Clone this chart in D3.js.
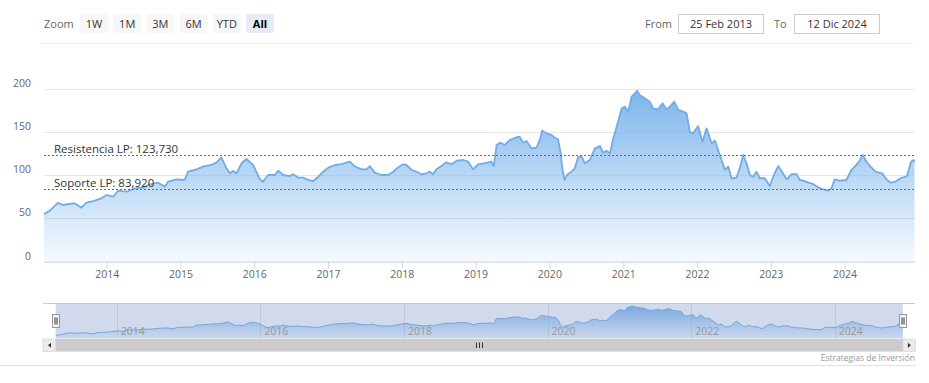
<!DOCTYPE html>
<html><head><meta charset="utf-8">
<script src="https://cdn.jsdelivr.net/npm/d3@7"></script>
<style>
body{margin:0;background:#fff;}
svg{display:block;font-family:"Open Sans",sans-serif;}
</style>
</head><body>
<svg id="c" width="929" height="383"></svg>
<script>
const dates = ["2013-02-25","2013-03-26","2013-05-05","2013-05-30","2013-07-02","2013-07-27","2013-08-29","2013-09-23","2013-10-26","2013-12-06",
"2014-01-01","2014-02-03","2014-02-27","2014-04-10","2014-05-21","2014-06-30","2014-08-03","2014-09-13","2014-10-16","2014-11-01","2014-12-12",
"2015-01-22","2015-02-08","2015-03-21","2015-04-23","2015-06-03","2015-06-28","2015-07-23","2015-08-17","2015-09-03","2015-09-19","2015-10-06","2015-10-31","2015-11-24","2015-12-27",
"2016-01-29","2016-02-14","2016-03-10","2016-04-13","2016-04-29","2016-05-24","2016-06-26","2016-07-12","2016-08-07","2016-08-31","2016-09-25","2016-10-19","2016-11-13","2016-12-08",
"2017-01-02","2017-02-04","2017-03-08","2017-04-19","2017-05-14","2017-06-16","2017-07-10","2017-07-26","2017-08-20","2017-09-22","2017-10-25","2017-11-19","2017-12-13",
"2018-01-08","2018-01-24","2018-02-18","2018-03-15","2018-04-08","2018-05-03","2018-05-19","2018-06-04","2018-06-21","2018-07-16","2018-08-10","2018-09-04","2018-09-29","2018-10-31","2018-11-25","2018-12-19",
"2019-01-13","2019-02-15","2019-03-20","2019-04-01","2019-04-15","2019-05-01","2019-05-26","2019-06-19","2019-07-22","2019-08-07","2019-08-24","2019-09-10","2019-10-04","2019-10-29","2019-11-15","2019-11-26","2019-12-18",
"2020-01-11","2020-01-27","2020-02-13","2020-02-26","2020-03-06","2020-03-17","2020-03-28","2020-04-19","2020-05-06","2020-05-22","2020-06-08","2020-06-24","2020-07-19","2020-08-13","2020-09-07","2020-09-23","2020-10-10","2020-10-27","2020-11-12","2020-11-29","2020-12-24",
"2021-01-09","2021-01-25","2021-02-11","2021-02-27","2021-03-10","2021-03-23","2021-04-17","2021-05-12","2021-05-28","2021-06-22","2021-07-14","2021-08-03","2021-08-19","2021-09-10","2021-09-30","2021-10-24","2021-11-10","2021-11-26","2021-12-13",
"2022-01-06","2022-01-28","2022-02-17","2022-03-14","2022-03-30","2022-04-15","2022-05-02","2022-05-19","2022-06-04","2022-06-21","2022-07-15","2022-07-31","2022-08-17","2022-09-03","2022-09-19","2022-10-05","2022-10-22","2022-11-07","2022-12-02","2022-12-27",
"2023-01-16","2023-02-07","2023-02-28","2023-03-20","2023-04-14","2023-05-08","2023-05-24","2023-06-10","2023-07-05","2023-07-29","2023-08-23","2023-09-17","2023-10-12","2023-10-28","2023-11-13","2023-12-08",
"2024-01-10","2024-02-04","2024-02-20","2024-03-13","2024-03-30","2024-04-19","2024-05-09","2024-06-01","2024-07-05","2024-07-29","2024-08-18","2024-09-08","2024-10-03","2024-11-05","2024-11-25","2024-12-08","2024-12-12"];

const prices = [55,59,68,65.5,66.7,67.5,62.4,68.2,70.1,73.3,
77.1,75.1,82.1,80.9,84.9,85.6,89.5,91.4,86.7,92.5,95.3,
94.5,104.1,106.9,109.9,111.9,114.6,120.8,108,102.3,104.9,102.3,113.9,118.8,111.9,
95.5,92.5,100.3,100.3,105.3,100.3,99.1,101.1,97.2,97.2,94.5,93.3,98.3,104.1,
108.8,111.9,113,115.7,109.9,106.9,106.9,110.7,103,100.3,100.3,104.1,109.2,
112.7,111.9,106.1,104.1,101.1,102.3,104.1,101.1,106.9,110.7,115,112.7,116.9,117.7,115.7,106.9,
112.7,113.9,115.7,110.7,135.1,137.8,135.1,140.9,144,144.7,137.8,139.7,131.2,131.9,140.9,151.7,148.6,
146.7,143.5,141.7,125.4,106.1,94.5,100.3,104.1,108,120.8,122.3,113.9,117.7,131.2,133.9,126.1,128.5,125.4,142.8,156.3,177.6,
179.5,173.7,191.1,195,198,193,189.2,185.3,177.6,176.5,183.4,176.5,179.5,185.3,175.7,173.7,171.8,150.5,148.6,
157.1,138.9,154.4,137,140.1,129.3,117.7,106.1,109.9,96.5,97.2,108,123.5,113.9,100.3,98.3,104.1,96.5,96.5,87.5,
100.3,110.7,103,95.3,101.4,101.4,94.5,93.7,91.4,89.9,86,83.7,82.1,84.9,95.3,93.7,
94.5,106.1,109.9,115.7,123.5,115.7,109.9,104.1,102.3,94.5,91.4,92.5,96.5,99.1,115.7,117.7,115.7];

const yTicks = [0, 50, 100, 150, 200];
const xTickYears = [2014, 2015, 2016, 2017, 2018, 2019, 2020, 2021, 2022, 2023, 2024];
const navTickYears = [2014, 2016, 2018, 2020, 2022, 2024];
const zoomButtons = ["1W", "1M", "3M", "6M", "YTD", "All"];
const selectedButton = "All";
const plotLineValues = [123.73, 83.92];
const plotLineLabels = ["Resistencia LP: 123,730", "Soporte LP: 83,920"];
const rangeFrom = "25 Feb 2013";
const rangeTo = "12 Dic 2024";
const creditText = "Estrategias de Inversión";

const parse = d3.timeParse("%Y-%m-%d");
const data = dates.map((d, i) => ({date: parse(d), value: prices[i]}));
const svg = d3.select("#c");
svg.append("rect").attr("width", 929).attr("height", 383).attr("fill", "#fff");

// ---- separators
svg.append("line").attr("x1", 40).attr("x2", 913).attr("y1", 43.5).attr("y2", 43.5).attr("stroke", "#eeeeee");
svg.append("line").attr("x1", 0).attr("x2", 915).attr("y1", 365.5).attr("y2", 365.5).attr("stroke", "#e0e0e0");

// ---- range selector
svg.append("text").attr("x", 44).attr("y", 28).attr("font-size", 11).attr("fill", "#666").text("Zoom");
const btn = svg.append("g").selectAll("g").data(zoomButtons).join("g")
  .attr("transform", (d, i) => `translate(${80 + i * 33.2},14)`);
btn.append("rect").attr("width", 28).attr("height", 19).attr("rx", 2)
  .attr("fill", d => d === selectedButton ? "#e6ebf5" : "#f7f7f7");
btn.append("text").attr("x", 14).attr("y", 14).attr("text-anchor", "middle").attr("font-size", 11)
  .attr("font-weight", d => d === selectedButton ? "bold" : "normal")
  .attr("fill", d => d === selectedButton ? "#000" : "#333").text(d => d);

svg.append("text").attr("x", 645).attr("y", 28).attr("font-size", 11).attr("fill", "#666").text("From");
svg.append("text").attr("x", 774).attr("y", 28).attr("font-size", 11).attr("fill", "#666").text("To");
[[678.5, rangeFrom], [794.5, rangeTo]].forEach(([bx, t]) => {
  svg.append("rect").attr("x", bx).attr("y", 14.5).attr("width", 85).attr("height", 19)
    .attr("fill", "#fff").attr("stroke", "#cccccc");
  svg.append("text").attr("x", bx + 42.5).attr("y", 28).attr("text-anchor", "middle")
    .attr("font-size", 11).attr("fill", "#333").text(t);
});

// ---- main chart
const x = d3.scaleTime().domain(d3.extent(data, d => d.date)).range([44, 914.5]);
const y = d3.scaleLinear().domain([0, 200]).range([261.5, 89]);

const defs = svg.append("defs");
const grad = defs.append("linearGradient").attr("id", "g1").attr("gradientUnits", "userSpaceOnUse")
  .attr("x1", 0).attr("x2", 0).attr("y1", y(200)).attr("y2", y(0));
grad.append("stop").attr("offset", 0).attr("stop-color", "#7cb5ec").attr("stop-opacity", 1);
grad.append("stop").attr("offset", 1).attr("stop-color", "#7cb5ec").attr("stop-opacity", 0.07);

svg.append("g").selectAll("line").data(yTicks).join("line")
  .attr("x1", 44).attr("x2", 914.5).attr("y1", d => Math.round(y(d)) + 0.5).attr("y2", d => Math.round(y(d)) + 0.5)
  .attr("stroke", "#e6e6e6");
svg.append("g").selectAll("text").data(yTicks).join("text")
  .attr("x", 31).attr("y", d => y(d) - 2).attr("text-anchor", "end").attr("font-size", 10.5).attr("fill", "#666")
  .text(d => d);

const area = d3.area().x(d => x(d.date)).y0(y(0)).y1(d => y(d.value));
const line = d3.line().x(d => x(d.date)).y(d => y(d.value));
svg.append("path").datum(data).attr("d", area).attr("fill", "url(#g1)");
svg.append("path").datum(data).attr("d", line).attr("fill", "none").attr("stroke", "#72ace6").attr("stroke-width", 1.8)
  .attr("stroke-linejoin", "round");

const xAxis = d3.axisBottom(x).tickValues(xTickYears.map(yy => new Date(yy, 0, 1)))
  .tickFormat(d3.timeFormat("%Y")).tickSize(7).tickSizeOuter(0).tickPadding(2);
const gx = svg.append("g").attr("transform", "translate(0,261.5)").call(xAxis);
gx.select(".domain").attr("stroke", "#ccd6eb");
gx.selectAll(".tick line").attr("stroke", "#ccd6eb");
gx.selectAll(".tick text").attr("fill", "#666").attr("font-size", 10.5).attr("font-family", "Open Sans, sans-serif");

// plot lines
const plColors = ["#22a022", "#c83c64"];
plotLineValues.forEach((v, i) => {
  const yy = Math.round(y(v)) + 0.5;
  svg.append("line").attr("x1", 44).attr("x2", 914.5).attr("y1", yy).attr("y2", yy)
    .attr("stroke", plColors[i]).attr("stroke-width", 1).attr("stroke-dasharray", "2,2");
  svg.append("text").attr("x", 54).attr("y", yy - 3).attr("font-size", 11.5).attr("fill", "#333").text(plotLineLabels[i]);
});

// ---- navigator
const nx = d3.scaleTime().domain(d3.extent(data, d => d.date)).range([55.7, 902.9]);
const ny = d3.scaleLinear().domain([40, 200]).range([338.5, 305.5]);
const navTop = 303.5, navBottom = 338.5;

svg.append("g").selectAll("line").data(navTickYears).join("line")
  .attr("x1", d => Math.round(nx(new Date(d, 0, 1))) + 0.5).attr("x2", d => Math.round(nx(new Date(d, 0, 1))) + 0.5)
  .attr("y1", navTop).attr("y2", navBottom).attr("stroke", "#e6e6e6");

const grad2 = defs.append("linearGradient").attr("id", "g2").attr("gradientUnits", "userSpaceOnUse")
  .attr("x1", 0).attr("x2", 0).attr("y1", ny(200)).attr("y2", navBottom);
grad2.append("stop").attr("offset", 0).attr("stop-color", "#7cb5ec").attr("stop-opacity", 0.95);
grad2.append("stop").attr("offset", 1).attr("stop-color", "#7cb5ec").attr("stop-opacity", 0.05);

const navArea = d3.area().x(d => nx(d.date)).y0(navBottom).y1(d => ny(d.value));
const navLine = d3.line().x(d => nx(d.date)).y(d => ny(d.value));
svg.append("path").datum(data).attr("d", navArea).attr("fill", "url(#g2)");
svg.append("path").datum(data).attr("d", navLine).attr("fill", "none").attr("stroke", "#7cb5ec").attr("stroke-width", 1);

// mask over selected range
svg.append("rect").attr("x", nx.range()[0]).attr("y", navTop).attr("width", nx.range()[1] - nx.range()[0])
  .attr("height", navBottom - navTop).attr("fill", "rgba(102,133,194,0.3)");
// outline
svg.append("line").attr("x1", 43).attr("x2", 915).attr("y1", navTop).attr("y2", navTop).attr("stroke", "#cccccc");

// nav labels
svg.append("g").selectAll("text").data(navTickYears).join("text")
  .attr("x", d => nx(new Date(d, 0, 1)) + 4).attr("y", 335).attr("font-size", 10.5).attr("fill", "#999")
  .text(d => d);

// handles
nx.range().forEach(hx => {
  const g = svg.append("g").attr("transform", `translate(${Math.round(hx) - 3.5},314.5)`);
  g.append("rect").attr("width", 7).attr("height", 13).attr("fill", "#f2f2f2").attr("stroke", "#999");
  g.append("line").attr("x1", 2.5).attr("x2", 2.5).attr("y1", 3).attr("y2", 10).attr("stroke", "#333");
  g.append("line").attr("x1", 4.5).attr("x2", 4.5).attr("y1", 3).attr("y2", 10).attr("stroke", "#333");
});

// scrollbar
const sbY = 339, sbH = 12.5;
svg.append("rect").attr("x", 43).attr("y", sbY).attr("width", 872).attr("height", sbH).attr("fill", "#f2f2f2");
svg.append("rect").attr("x", nx.range()[0]).attr("y", sbY).attr("width", nx.range()[1] - nx.range()[0])
  .attr("height", sbH).attr("fill", "#cccccc");
[[43, -1], [902.9, 1]].forEach(([bx, dir]) => {
  svg.append("rect").attr("x", bx).attr("y", sbY).attr("width", 12.5).attr("height", sbH)
    .attr("fill", "#ebebeb").attr("stroke", "#cccccc").attr("stroke-width", 0.5);
  const cx = bx + 6.5, cy = sbY + sbH / 2;
  svg.append("path").attr("d", dir < 0
      ? `M${cx + 1.5},${cy - 2.5} L${cx - 1.5},${cy} L${cx + 1.5},${cy + 2.5} Z`
      : `M${cx - 1.5},${cy - 2.5} L${cx + 1.5},${cy} L${cx - 1.5},${cy + 2.5} Z`)
    .attr("fill", "#333");
});
const gc = (nx.range()[0] + nx.range()[1]) / 2;
[-3, 0, 3].forEach(o => {
  svg.append("line").attr("x1", Math.round(gc + o) + 0.5).attr("x2", Math.round(gc + o) + 0.5)
    .attr("y1", sbY + 3.5).attr("y2", sbY + 9).attr("stroke", "#333");
});

// credits
svg.append("text").attr("x", 915).attr("y", 361).attr("text-anchor", "end").attr("font-size", 8.5).attr("fill", "#999")
  .text(creditText);
</script>
</body></html>
